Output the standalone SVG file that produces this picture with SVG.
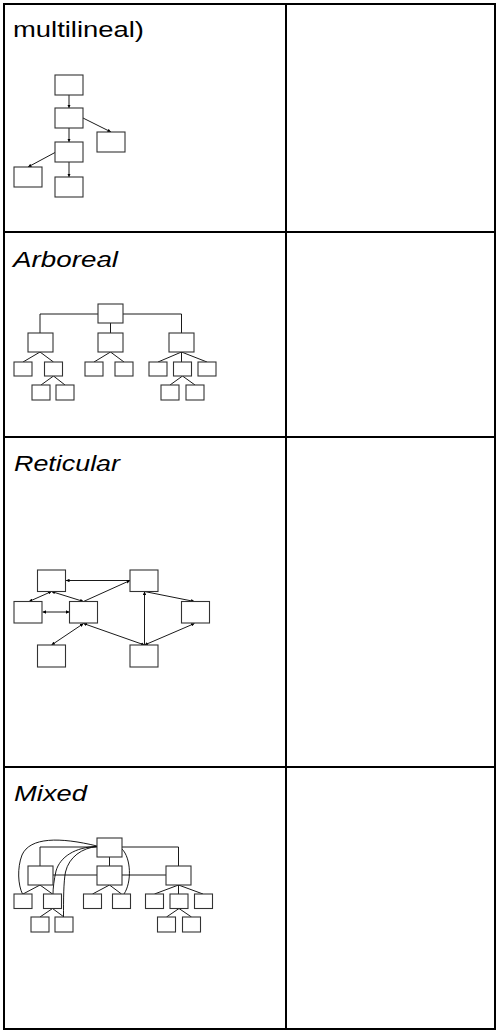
<svg xmlns="http://www.w3.org/2000/svg" width="497" height="1032" viewBox="0 0 497 1032">
<style>
.grid{fill:none;stroke:#000;stroke-width:2}
.lbl{font-family:"Liberation Sans",Arial,sans-serif;font-size:22px;fill:#000}
.it{font-style:italic}
.box{fill:#fff;stroke:#333;stroke-width:1.1}
.ln{fill:none;stroke:#000;stroke-width:0.9}
.ar{fill:none;stroke:#000;stroke-width:0.9;marker-end:url(#ah)}
.ar2{fill:none;stroke:#000;stroke-width:0.9;marker-end:url(#ah);marker-start:url(#ahs)}
</style>
<defs>
<marker id="ah" viewBox="0 0 6 6" refX="6" refY="3" markerWidth="3.5" markerHeight="3.5" markerUnits="userSpaceOnUse" orient="auto"><path d="M0,0 L6,3 L0,6 z" fill="#000"/></marker>
<marker id="ahs" viewBox="0 0 6 6" refX="0" refY="3" markerWidth="3.5" markerHeight="3.5" markerUnits="userSpaceOnUse" orient="auto"><path d="M6,0 L0,3 L6,6 z" fill="#000"/></marker>
</defs>
<rect x="0" y="0" width="497" height="1032" fill="#fff"/>
<g id="table">
<rect class="grid" x="4" y="4" width="491" height="1025"/>
<line class="grid" x1="286" y1="4" x2="286" y2="1029"/>
<line class="grid" x1="4" y1="232" x2="495" y2="232"/>
<line class="grid" x1="4" y1="437" x2="495" y2="437"/>
<line class="grid" x1="4" y1="767" x2="495" y2="767"/>
</g>
<g id="labels">
<text class="lbl" x="13" y="37" textLength="131" lengthAdjust="spacingAndGlyphs">multilineal)</text>
<text class="lbl it" x="13" y="267" textLength="105" lengthAdjust="spacingAndGlyphs">Arboreal</text>
<text class="lbl it" x="14" y="471" textLength="106" lengthAdjust="spacingAndGlyphs">Reticular</text>
<text class="lbl it" x="14" y="801" textLength="73" lengthAdjust="spacingAndGlyphs">Mixed</text>
</g>
<g id="connectors">
<line class="ar" x1="69" y1="95" x2="69" y2="108"/>
<line class="ar" x1="83" y1="118" x2="111" y2="132"/>
<line class="ar" x1="69" y1="128" x2="69" y2="142"/>
<line class="ar" x1="55" y1="152.5" x2="28" y2="167"/>
<line class="ar" x1="69" y1="162" x2="69" y2="177"/>
<path class="ln" d="M98,314 H40 V333 M123,314 H181.5 V333 M110.5,323 V333"/>
<path class="ln" d="M40,352 L23,362 M40,352 L53.5,362 M110.5,352 L94,362 M110.5,352 L124,362 M181.5,352 L158,362 M181.5,352 V362 M181.5,352 L207,362"/>
<path class="ln" d="M53.5,376 L41,385 M53.5,376 L65,385 M182.5,376 L170,385 M182.5,376 L195,385"/>
<line class="ar" x1="130" y1="580.5" x2="66" y2="580.5"/>
<line class="ar2" x1="51.5" y1="591.5" x2="29" y2="601.5"/>
<line class="ar2" x1="51.5" y1="591.5" x2="83.5" y2="601.5"/>
<line class="ar2" x1="42.5" y1="612" x2="69.5" y2="612"/>
<line class="ar" x1="83.5" y1="601.5" x2="130" y2="580.5"/>
<line class="ar" x1="144.5" y1="645" x2="144.5" y2="591.5"/>
<line class="ar" x1="144.5" y1="591.5" x2="194.5" y2="601.5"/>
<line class="ar2" x1="144.5" y1="645" x2="83.5" y2="623.5"/>
<line class="ar2" x1="144.5" y1="645" x2="194.5" y2="623.5"/>
<line class="ar2" x1="83.5" y1="623.5" x2="51.5" y2="645"/>
<path class="ln" d="M97,847 H40 V866 M122,847 H178.5 V866 M109.5,857 V866"/>
<path class="ln" d="M52.5,875 H97 M122,875 H166"/>
<path class="ln" d="M40,885 L23,894 M40,885 L52.5,894 M109.5,885 L92.5,894 M109.5,885 L121.5,894 M178.5,885 L154.5,894 M178.5,885 V894 M178.5,885 L203,894"/>
<path class="ln" d="M52.5,908.5 L40,917 M52.5,908.5 L64,917 M179,908.5 L166.5,917 M179,908.5 L191.5,917"/>
<path class="ln" d="M97,846 C60,837 30,837 22,855 C17,868 18,885 22.5,894"/>
<path class="ln" d="M97,846.5 C75,847 60,857 56,871 C54,880 53,888 53,894"/>
<path class="ln" d="M97,846.5 C82,848 69,857 65.5,872 C63.5,882 63.5,900 63.5,917"/>
<path class="ln" d="M122,849 C131,858 132,882 124,894"/>
</g>
<g id="n-multi">
<rect class="box" x="55" y="75" width="28" height="20"/>
<rect class="box" x="55" y="108" width="28" height="20"/>
<rect class="box" x="97" y="132" width="28" height="20"/>
<rect class="box" x="55" y="142" width="28" height="20"/>
<rect class="box" x="14" y="167" width="28" height="20"/>
<rect class="box" x="55" y="177" width="28" height="20"/>
</g>
<g id="n-arbo">
<rect class="box" x="98" y="304" width="25" height="19"/>
<rect class="box" x="28" y="333" width="25" height="19"/>
<rect class="box" x="98" y="333" width="25" height="19"/>
<rect class="box" x="169" y="333" width="25" height="19"/>
<rect class="box" x="14" y="362" width="18" height="14"/>
<rect class="box" x="44.5" y="362" width="18" height="14"/>
<rect class="box" x="85" y="362" width="18" height="14"/>
<rect class="box" x="115" y="362" width="18" height="14"/>
<rect class="box" x="149" y="362" width="18" height="14"/>
<rect class="box" x="173.5" y="362" width="18" height="14"/>
<rect class="box" x="198" y="362" width="18" height="14"/>
<rect class="box" x="32" y="385" width="18" height="15"/>
<rect class="box" x="56" y="385" width="18" height="15"/>
<rect class="box" x="161" y="385" width="18" height="15"/>
<rect class="box" x="186" y="385" width="18" height="15"/>
</g>
<g id="n-reti">
<rect class="box" x="37.5" y="570" width="28" height="21.5"/>
<rect class="box" x="130" y="570" width="28" height="21.5"/>
<rect class="box" x="14" y="601.5" width="28" height="21.5"/>
<rect class="box" x="69.5" y="601.5" width="28" height="21.5"/>
<rect class="box" x="181.5" y="601.5" width="28" height="21.5"/>
<rect class="box" x="37.5" y="645" width="28" height="22"/>
<rect class="box" x="130" y="645" width="28" height="22"/>
</g>
<g id="n-mixed">
<rect class="box" x="97" y="838" width="25" height="19"/>
<rect class="box" x="28" y="866" width="25" height="19"/>
<rect class="box" x="97" y="866" width="25" height="19"/>
<rect class="box" x="166" y="866" width="25" height="19"/>
<rect class="box" x="14" y="894" width="18" height="14.5"/>
<rect class="box" x="43.5" y="894" width="18" height="14.5"/>
<rect class="box" x="83.5" y="894" width="18" height="14.5"/>
<rect class="box" x="112.5" y="894" width="18" height="14.5"/>
<rect class="box" x="145.5" y="894" width="18" height="14.5"/>
<rect class="box" x="170" y="894" width="18" height="14.5"/>
<rect class="box" x="194.5" y="894" width="18" height="14.5"/>
<rect class="box" x="31" y="917" width="18" height="15"/>
<rect class="box" x="55" y="917" width="18" height="15"/>
<rect class="box" x="157.5" y="917" width="18" height="15"/>
<rect class="box" x="182.5" y="917" width="18" height="15"/>
</g>
</svg>
